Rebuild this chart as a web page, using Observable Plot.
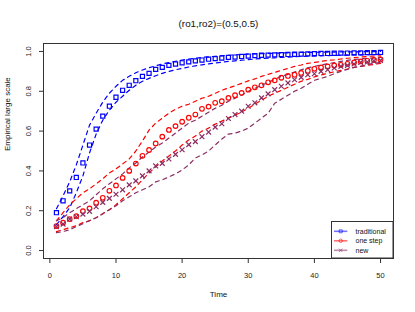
<!DOCTYPE html>
<html><head><meta charset="utf-8">
<script src="https://cdn.jsdelivr.net/npm/d3@7"></script>
<script src="https://cdn.jsdelivr.net/npm/@observablehq/plot@0.6"></script>
<style>
body{margin:0;background:#fff;font-family:"Liberation Sans",Arial,sans-serif}
#chart{width:415px;height:312px;position:relative}
</style>
</head><body><div id="chart"></div>
<script>
const time = [1,2,3,4,5,6,7,8,9,10,11,12,13,14,15,16,17,18,19,20,21,22,23,24,25,26,27,28,29,30,31,32,33,34,35,36,37,38,39,40,41,42,43,44,45,46,47,48,49,50];

const traditional = [0.19,0.25,0.30,0.367,0.44,0.53,0.61,0.675,0.725,0.77,0.805,0.83,0.853,0.875,0.89,0.91,0.92,0.93,0.937,0.943,0.948,0.953,0.957,0.961,0.964,0.967,0.97,0.972,0.975,0.977,0.979,0.981,0.982,0.983,0.984,0.985,0.986,0.987,0.988,0.989,0.99,0.99,0.991,0.992,0.992,0.993,0.993,0.994,0.994,0.995];
const traditionalUpper = [0.21,0.275,0.345,0.43,0.53,0.63,0.69,0.745,0.79,0.825,0.855,0.875,0.893,0.907,0.918,0.928,0.937,0.944,0.951,0.957,0.962,0.966,0.97,0.973,0.976,0.979,0.981,0.983,0.985,0.987,0.988,0.989,0.99,0.991,0.992,0.993,0.994,0.995,0.995,0.996,0.996,0.997,0.997,0.998,0.998,0.998,0.999,0.999,0.999,1.0];
const traditionalLower = [0.13,0.17,0.215,0.29,0.375,0.49,0.585,0.655,0.705,0.745,0.775,0.805,0.83,0.85,0.865,0.878,0.89,0.9,0.908,0.915,0.922,0.928,0.933,0.938,0.942,0.946,0.95,0.953,0.956,0.959,0.962,0.964,0.966,0.968,0.97,0.972,0.973,0.975,0.976,0.977,0.978,0.979,0.98,0.981,0.982,0.983,0.983,0.984,0.985,0.985];

const oneStep = [0.123,0.14,0.158,0.173,0.198,0.212,0.24,0.265,0.30,0.327,0.365,0.40,0.437,0.476,0.505,0.538,0.572,0.606,0.625,0.647,0.667,0.683,0.712,0.723,0.742,0.75,0.767,0.78,0.792,0.808,0.82,0.83,0.845,0.855,0.868,0.877,0.883,0.892,0.903,0.913,0.92,0.925,0.93,0.933,0.938,0.945,0.95,0.953,0.957,0.96];
const oneStepUpper = [0.15,0.19,0.23,0.26,0.29,0.31,0.335,0.36,0.39,0.41,0.435,0.46,0.50,0.55,0.605,0.64,0.665,0.69,0.71,0.725,0.735,0.75,0.765,0.775,0.79,0.805,0.817,0.827,0.84,0.852,0.862,0.875,0.885,0.895,0.905,0.915,0.925,0.932,0.94,0.945,0.95,0.955,0.958,0.962,0.966,0.969,0.972,0.975,0.977,0.978];
const oneStepLower = [0.095,0.105,0.115,0.125,0.14,0.15,0.165,0.185,0.205,0.23,0.26,0.29,0.32,0.355,0.39,0.42,0.45,0.475,0.50,0.53,0.555,0.575,0.60,0.615,0.635,0.65,0.665,0.68,0.695,0.715,0.735,0.755,0.775,0.79,0.805,0.82,0.835,0.85,0.86,0.872,0.882,0.89,0.898,0.905,0.912,0.92,0.925,0.93,0.935,0.94];

const newMethod = [0.12,0.133,0.158,0.17,0.183,0.197,0.22,0.242,0.262,0.283,0.305,0.33,0.35,0.375,0.40,0.425,0.438,0.46,0.483,0.506,0.532,0.547,0.572,0.595,0.62,0.637,0.663,0.683,0.70,0.725,0.742,0.767,0.787,0.808,0.825,0.842,0.858,0.87,0.883,0.888,0.90,0.908,0.917,0.925,0.93,0.937,0.945,0.947,0.953,0.955];
const newUpper = [0.15,0.165,0.19,0.21,0.23,0.25,0.28,0.31,0.335,0.36,0.385,0.415,0.44,0.47,0.495,0.52,0.54,0.565,0.59,0.615,0.64,0.655,0.675,0.695,0.715,0.73,0.75,0.765,0.78,0.80,0.815,0.83,0.845,0.86,0.875,0.885,0.897,0.908,0.918,0.925,0.932,0.938,0.944,0.95,0.955,0.96,0.963,0.966,0.968,0.97];
const newLower = [0.09,0.095,0.105,0.12,0.135,0.15,0.165,0.185,0.205,0.225,0.25,0.27,0.29,0.305,0.32,0.345,0.355,0.37,0.385,0.405,0.43,0.465,0.48,0.50,0.53,0.56,0.585,0.59,0.60,0.615,0.64,0.665,0.69,0.74,0.76,0.78,0.80,0.815,0.835,0.855,0.865,0.875,0.888,0.90,0.91,0.92,0.925,0.935,0.94,0.945];

const seriesNames = ["traditional","one step","new"];
const seriesColors = ["#0000FF","#FF0000","#8B2D62"];
const seriesSymbols = ["square","circle","times"];
const xTicks = [0,10,20,30,40,50];
const yTicks = [0,0.2,0.4,0.6,0.8,1.0];
const titleText = "(ro1,ro2)=(0.5,0.5)";
const xLabel = "Time";
const yLabel = "Empirical large scale";

const means = [traditional, oneStep, newMethod];
const uppers = [traditionalUpper, oneStepUpper, newUpper];
const lowers = [traditionalLower, oneStepLower, newLower];

const points = seriesNames.flatMap((s,i)=>time.map((t,j)=>({t, v: means[i][j], s})));
const bands = seriesNames.flatMap((s,i)=>[["upper",uppers[i]],["lower",lowers[i]]]
  .flatMap(([b,arr])=>time.map((t,j)=>({t, v: arr[j], s, key: s+"-"+b}))));

const fontSize = 7.5;
const chart = Plot.plot({
  width: 415, height: 312,
  marginLeft: 43, marginRight: 22, marginTop: 43, marginBottom: 54,
  style: {fontFamily: '"Liberation Sans", Arial, sans-serif', fontSize: fontSize+"px", background: "#fff", color: "#222"},
  x: {domain: [-0.96, 51.96]},
  y: {domain: [-0.04, 1.04]},
  color: {domain: seriesNames, range: seriesColors},
  symbol: {domain: seriesNames, range: seriesSymbols},
  marks: [
    Plot.line(bands, {x: "t", y: "v", z: "key", stroke: "s", strokeDasharray: "4,4", strokeWidth: 1.2}),
    Plot.dot(points, {x: "t", y: "v", stroke: "s", symbol: "s", r: 2.3, strokeWidth: 1.2}),
    Plot.frame({stroke: "#333"}),
    Plot.axisX({ticks: xTicks, tickSize: 5, tickPadding: 9, label: null, stroke: "#333", fontSize: fontSize}),
    Plot.axisY({ticks: yTicks, tickSize: 4, tickPadding: 9, tickRotate: -90, tickFormat: d3.format(".1f"), label: null, stroke: "#333", fontSize: fontSize}),
    Plot.text([titleText], {frameAnchor: "top", dy: -23, fontSize: 9.8, fill: "#111"}),
    Plot.text([xLabel], {frameAnchor: "bottom", dy: 38, fontSize: 8, fill: "#111"}),
    Plot.text([yLabel], {frameAnchor: "left", dx: -36, rotate: -90, fontSize: 8, fill: "#111"})
  ]
});
document.getElementById("chart").appendChild(chart);

// legend (bottom-right, inside the plot box)
const svg = d3.select(chart);
const lg = svg.append("g").attr("font-family", '"Liberation Sans", Arial, sans-serif').attr("font-size", "7px").attr("text-anchor", "start");
const bx = 331.5, by = 221.5, bw = 61.5, bh = 36.5;
lg.append("rect").attr("x", bx).attr("y", by).attr("width", bw).attr("height", bh).attr("fill", "#fff").attr("stroke", "#333");
seriesNames.forEach((name, i) => {
  const yy = by + 9.8 + i * 9.5;
  const g = lg.append("g");
  g.append("line").attr("x1", bx + 2.5).attr("x2", bx + 15.8).attr("y1", yy).attr("y2", yy)
    .attr("stroke", seriesColors[i]).attr("stroke-opacity", 0.55).attr("stroke-width", 1.6);
  const sym = d3.symbol().type(i === 0 ? d3.symbolSquare : i === 1 ? d3.symbolCircle : d3.symbolTimes).size(9);
  g.append("path").attr("d", sym()).attr("transform", `translate(${bx + 9.2},${yy})`)
    .attr("fill", "none").attr("stroke", seriesColors[i]).attr("stroke-opacity", 0.6).attr("stroke-width", 1);
  g.append("text").attr("x", bx + 24).attr("y", yy).attr("dy", "0.35em").attr("text-anchor", "start").attr("fill", "#111").text(name);
});
</script>
</body></html>
